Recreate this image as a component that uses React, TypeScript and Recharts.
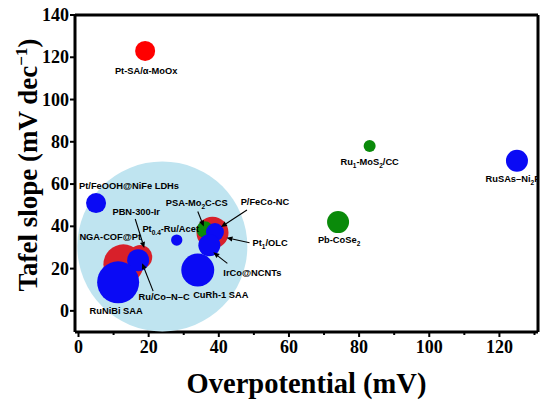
import React from 'react';
import {
  ScatterChart, Scatter, XAxis, YAxis, ZAxis, ReferenceLine, Label,
} from 'recharts';

// bubble groups, by colour (z = bubble value, area ∝ z)
const redNames = ['Pt-SA/α-MoOx', 'NGA-COF@Pt', 'PBN-300-Ir', 'Pt_{1}/OLC'];
const redX = [19, 12.8, 17.6, 38.2];
const redY = [123, 22, 25.5, 37];
const redZ = [100, 400, 144, 256];

const greenNames = ['PSA-Mo_{2}C-CS', 'Ru_{1}-MoS_{2}/CC', 'Pb-CoSe_{2}'];
const greenX = [36, 83, 74];
const greenY = [38.5, 78, 42];
const greenZ = [69, 36, 121];

const blueNames = [
  'Pt/FeOOH@NiFe LDHs', 'Ru/Co–N–C', 'RuNiBi SAA', 'Pt_{0.4}-Ru/Acet',
  'CuRh-1 SAA', 'P/FeCo-NC', 'IrCo@NCNTs', 'RuSAs–Ni_{2}P',
];
const blueX = [5, 17, 11.3, 28, 34, 38.9, 37.3, 125];
const blueY = [51, 24, 13.5, 33.5, 19.3, 37.3, 31, 71];
const blueZ = [100, 121, 441, 32, 272, 81, 121, 121];

// highlighted region
const regionX = [23.9];
const regionY = [30.5];
const regionZ = [7225];

const xTicks = [0, 10, 20, 30, 40, 50, 60, 70, 80, 90, 100, 110, 120, 130];
const yTicks = [-10, 0, 10, 20, 30, 40, 50, 60, 70, 80, 90, 100, 110, 120, 130, 140];

const build = (names: string[], xs: number[], ys: number[], zs: number[]) =>
  names.map((name, i) => ({ name, x: xs[i], y: ys[i], z: zs[i] }));

const redData = build(redNames, redX, redY, redZ);
const greenData = build(greenNames, greenX, greenY, greenZ);
const blueData = build(blueNames, blueX, blueY, blueZ);
const regionData = build([''], regionX, regionY, regionZ);
const allData = [...redData, ...greenData, ...blueData];

// label placement relative to the bubble centre (px)
type Layout = { dx: number; dy: number; anchor?: 'start' | 'middle' | 'end'; arrow?: number[] };
const LABEL_LAYOUT: Record<string, Layout> = {
  'Pt-SA/α-MoOx': { dx: 1, dy: 20 },
  'Ru_{1}-MoS_{2}/CC': { dx: 0, dy: 16 },
  'RuSAs–Ni_{2}P': { dx: -4, dy: 18 },
  'Pb-CoSe_{2}': { dx: 1, dy: 18 },
  'Pt/FeOOH@NiFe LDHs': { dx: -17, dy: -17, anchor: 'start' },
  'NGA-COF@Pt': { dx: -44, dy: -28, anchor: 'start' },
  'PBN-300-Ir': { dx: -4, dy: -45, arrow: [-5, -38, 4, -9] },
  'Ru/Co–N–C': { dx: 26, dy: 37, arrow: [15, 31, 4, 3] },
  'RuNiBi SAA': { dx: -2, dy: 28 },
  'Pt_{0.4}-Ru/Acet': { dx: -6, dy: -11 },
  'PSA-Mo_{2}C-CS': { dx: -8, dy: -27, arrow: [-7, -18, -1, -3] },
  'P/FeCo-NC': { dx: 50, dy: -30, arrow: [32, -22, 6, -5] },
  'Pt_{1}/OLC': { dx: 40, dy: 10, anchor: 'start', arrow: [37, 10, 14, 5] },
  'IrCo@NCNTs': { dx: 43, dy: 27, arrow: [18, 18, 4, 7] },
  'CuRh-1 SAA': { dx: 23, dy: 25 },
};

const SANS = '"Liberation Sans", Arial, sans-serif';
const SERIF = '"Liberation Serif", "Times New Roman", serif';

function rich(text: string, size: number) {
  const parts = text.split(/(_\{[^}]*\})/).filter((p) => p !== '');
  let shift = 0;
  return parts.map((p, i) => {
    if (p.startsWith('_{')) {
      const d = 3 - shift;
      shift = 3;
      return <tspan key={i} dy={d} fontSize={size * 0.7}>{p.slice(2, -1)}</tspan>;
    }
    const d = -shift;
    shift = 0;
    return <tspan key={i} dy={d}>{p}</tspan>;
  });
}

const bubble = (color: string) => (p: any) => {
  const r = Math.sqrt(Math.max(p.size ?? 0, 0) / Math.PI);
  const fill = p.payload?.name === 'Pt-SA/α-MoOx' ? '#ff0000' : color;
  return <circle cx={p.cx} cy={p.cy} r={r} fill={fill} />;
};

const labelShape = (p: any) => {
  const name = p.payload?.name as string;
  const l = LABEL_LAYOUT[name];
  if (!l) return <g />;
  const { cx, cy } = p;
  let arrow = null;
  if (l.arrow) {
    const [ax1, ay1, ax2, ay2] = l.arrow;
    const x1 = cx + ax1, y1 = cy + ay1, x2 = cx + ax2, y2 = cy + ay2;
    const a = Math.atan2(y2 - y1, x2 - x1);
    const L = 6, W = 2.6;
    const bx = x2 - L * Math.cos(a), by = y2 - L * Math.sin(a);
    const pts = `${x2},${y2} ${bx + W * Math.sin(a)},${by - W * Math.cos(a)} ${bx - W * Math.sin(a)},${by + W * Math.cos(a)}`;
    arrow = (
      <g>
        <line x1={x1} y1={y1} x2={bx} y2={by} stroke="#000" strokeWidth={1.1} />
        <polygon points={pts} fill="#000" />
      </g>
    );
  }
  return (
    <g>
      {arrow}
      <text
        x={cx + l.dx}
        y={cy + l.dy + 3.3}
        textAnchor={l.anchor ?? 'middle'}
        fontFamily={SANS}
        fontWeight="bold"
        fontSize={9.3}
        fill="#000"
      >
        {rich(name, 9.3)}
      </text>
    </g>
  );
};

const XTick = (p: any) => {
  const v = p.payload.value;
  const major = v % 20 === 0;
  return (
    <g>
      <line x1={p.x} y1={p.y} x2={p.x} y2={p.y + (major ? 5 : 3)} stroke="#000" strokeWidth={2} />
      {major && (
        <text x={p.x} y={p.y + 21} textAnchor="middle" fontFamily={SERIF} fontWeight="bold" fontSize={18} fill="#000">
          {v}
        </text>
      )}
    </g>
  );
};

const YTick = (p: any) => {
  const v = p.payload.value;
  const major = v % 20 === 0;
  return (
    <g>
      <line x1={p.x} y1={p.y} x2={p.x - (major ? 5 : 3)} y2={p.y} stroke="#000" strokeWidth={2} />
      {major && (
        <text x={p.x - 6} y={p.y + 6} textAnchor="end" fontFamily={SERIF} fontWeight="bold" fontSize={18} fill="#000">
          {v}
        </text>
      )}
    </g>
  );
};

const YTitle = () => (
  <text
    x={37}
    y={165}
    transform="rotate(-90, 37, 165)"
    textAnchor="middle"
    fontFamily={SERIF}
    fontWeight="bold"
    fontSize={27}
    fill="#000"
  >
    Tafel slope (mV dec
    <tspan dy={-10} fontSize={17}>−1</tspan>
    <tspan dy={10}>)</tspan>
  </text>
);

export default function App() {
  return (
    <div style={{ position: 'absolute', left: 0, top: 0, background: '#fff' }}>
      <ScatterChart width={550} height={405} margin={{ top: 15, right: 12, bottom: 0, left: 0 }}>
        <XAxis
          type="number"
          dataKey="x"
          domain={[-1, 131]}
          ticks={xTicks}
          allowDataOverflow
          tickSize={0}
          tickMargin={0}
          tickLine={false}
          tick={<XTick />}
          axisLine={{ stroke: '#000', strokeWidth: 3 }}
          height={73}
        >
          <Label
            value="Overpotential (mV)"
            position="insideBottom"
            offset={12}
            style={{ fontFamily: SERIF, fontWeight: 'bold', fontSize: 28.5, fill: '#000' }}
          />
        </XAxis>
        <YAxis
          type="number"
          dataKey="y"
          domain={[-10, 140]}
          ticks={yTicks}
          allowDataOverflow
          tickSize={0}
          tickMargin={0}
          tickLine={false}
          tick={<YTick />}
          axisLine={{ stroke: '#000', strokeWidth: 3 }}
          width={75}
        >
          <Label content={<YTitle />} />
        </YAxis>
        <ZAxis type="number" dataKey="z" domain={[0, 10000]} range={[0, 10000 * Math.PI]} />
        <ReferenceLine y={140} stroke="#000" strokeWidth={3} />
        <ReferenceLine x={131} stroke="#000" strokeWidth={3} />
        <Scatter data={regionData} fill="#bfe4f0" shape={bubble('#bfe4f0')} isAnimationActive={false} />
        <Scatter data={redData} fill="#d8202a" shape={bubble('#d8202a')} isAnimationActive={false} />
        <Scatter data={greenData} fill="#0a8a0a" shape={bubble('#0a8a0a')} isAnimationActive={false} />
        <Scatter data={blueData} fill="#0a0af5" shape={bubble('#0a0af5')} isAnimationActive={false} />
        <Scatter data={allData} fill="none" shape={labelShape} isAnimationActive={false} />
      </ScatterChart>
    </div>
  );
}
